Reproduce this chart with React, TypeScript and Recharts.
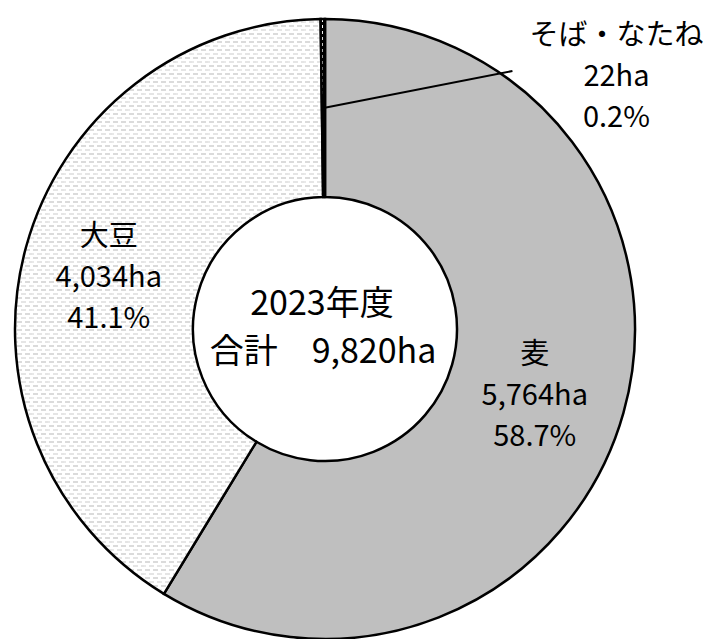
import { PieChart, Pie, Cell } from "recharts";

const CATEGORIES = ["麦", "大豆", "そば・なたね"];
const AREAS_HA = [5764, 4034, 22];
const YEAR_LABEL = "2023年度";

const FILLS = ["#bfbfbf", "url(#soyPattern)", "url(#darkPattern)"];
// where each label sits relative to the mid-radius point of its slice
const LABEL_OFFSETS = [
  { dx: -3, dy: 3, leader: false },
  { dx: -3, dy: 3, leader: false },
  { dx: 293, dy: -35, leader: true },
];

const FONT = '"Noto Sans CJK JP", "Noto Sans", sans-serif';
const RADIAN = Math.PI / 180;
const LINE_GAP = 41;

const total = AREAS_HA.reduce((s, v) => s + v, 0);
const data = CATEGORIES.map((name, i) => ({ name, value: AREAS_HA[i] }));

function renderLabel(props: any) {
  const { cx, cy, midAngle, innerRadius, outerRadius, index, value } = props;
  const r = (innerRadius + outerRadius) / 2;
  const px = cx + r * Math.cos(-midAngle * RADIAN);
  const py = cy + r * Math.sin(-midAngle * RADIAN);
  const off = LABEL_OFFSETS[index];
  const lx = px + off.dx;
  const ly = py + off.dy;
  const pct = ((value / total) * 100).toFixed(1) + "%";
  const lines = [CATEGORIES[index], value.toLocaleString("en-US") + "ha", pct];

  return (
    <g key={`label-${index}`}>
      {off.leader && (
        <line x1={px} y1={py} x2={lx - 104} y2={ly - 2} stroke="#000" strokeWidth={2} />
      )}
      {lines.map((t, i) => (
        <text
          key={i}
          x={lx}
          y={ly + (i - 1) * LINE_GAP}
          textAnchor="middle"
          dominantBaseline="central"
          fontSize={29}
          fontFamily={FONT}
          fill="#000"
        >
          {t}
        </text>
      ))}
    </g>
  );
}

export default function App() {
  const cx = 325;
  const cy = 329;
  return (
    <div style={{ position: "absolute", left: 0, top: 0, background: "#fff" }}>
      <PieChart width={714} height={639} margin={{ top: 0, right: 0, bottom: 0, left: 0 }}>
        <defs>
          <pattern id="soyPattern" width="16" height="8" patternUnits="userSpaceOnUse">
            <rect width="16" height="8" fill="#fff" />
            <line x1="1" y1="2" x2="6" y2="2" stroke="#c4c4c4" strokeWidth="1.2" />
            <line x1="9" y1="2" x2="14" y2="2" stroke="#c4c4c4" strokeWidth="1.2" />
            <line x1="5" y1="6" x2="10" y2="6" stroke="#d4d4d4" strokeWidth="1.2" />
            <line x1="13" y1="6" x2="16" y2="6" stroke="#d4d4d4" strokeWidth="1.2" />
            <line x1="0" y1="6" x2="2" y2="6" stroke="#d4d4d4" strokeWidth="1.2" />
          </pattern>
          <pattern id="darkPattern" width="2" height="6" patternUnits="userSpaceOnUse">
            <rect width="2" height="6" fill="#000" />
            <rect x="0" y="1" width="1" height="3" fill="#fff" />
          </pattern>
        </defs>
        <Pie
          data={data}
          dataKey="value"
          nameKey="name"
          cx={cx}
          cy={cy}
          innerRadius={132}
          outerRadius={310}
          startAngle={90}
          endAngle={-270}
          stroke="#000"
          strokeWidth={2.5}
          label={renderLabel}
          labelLine={false}
          isAnimationActive={false}
        >
          {data.map((d, i) => (
            <Cell key={d.name} fill={FILLS[i]} stroke="#000" strokeWidth={2.5} />
          ))}
        </Pie>
        <text
          x={cx - 3}
          y={cy - 29}
          textAnchor="middle"
          dominantBaseline="central"
          fontSize={34}
          fontFamily={FONT}
          fill="#000"
        >
          {YEAR_LABEL}
        </text>
        <text
          x={cx - 2}
          y={cy + 19}
          textAnchor="middle"
          dominantBaseline="central"
          fontSize={34}
          fontFamily={FONT}
          fill="#000"
        >
          {`合計　${total.toLocaleString("en-US")}ha`}
        </text>
      </PieChart>
    </div>
  );
}
